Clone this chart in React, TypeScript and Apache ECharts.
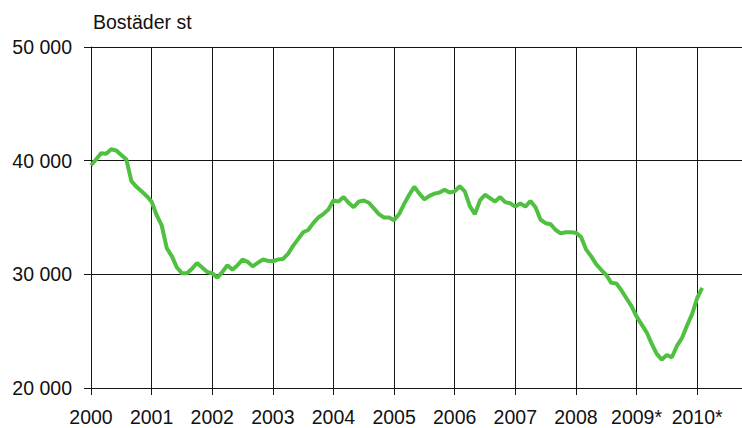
import React, { useEffect, useRef } from "react";
import * as echarts from "echarts";

// Monthly values, Jan 2000 .. Feb 2010 (dwellings, trend)
const startYear = 2000;
const monthlyValues: number[] = [
  39600, 40100, 40650, 40600, 41000, 40900, 40500, 40100, 38200, 37700, 37300, 36900,
  36400, 35200, 34300, 32300, 31600, 30600, 30100, 30100, 30500, 31000, 30600, 30200,
  30100, 29700, 30200, 30800, 30400, 30800, 31300, 31100, 30700, 31000, 31300, 31200,
  31150, 31300, 31350, 31800, 32500, 33100, 33700, 33900, 34500, 35000, 35300, 35700,
  36500, 36400, 36800, 36300, 35900, 36400, 36500, 36300, 35800, 35300, 35000, 35000,
  34750, 35300, 36200, 37000, 37700, 37100, 36600, 36900, 37100, 37200, 37450, 37200,
  37300, 37750, 37300, 36000, 35300, 36500, 37000, 36700, 36400, 36800, 36350, 36250,
  35950, 36250, 35950, 36450, 35900, 34800, 34500, 34400, 33900, 33600, 33700, 33700,
  33650, 33300, 32200, 31600, 30900, 30400, 29950, 29250, 29200, 28600, 27900, 27200,
  26300, 25600, 24900, 23900, 23000, 22500, 22900, 22700, 23700, 24400, 25500, 26500,
  27900, 28800,
];
const yearLabels: Record<number, string> = {
  2000: "2000", 2001: "2001", 2002: "2002", 2003: "2003", 2004: "2004",
  2005: "2005", 2006: "2006", 2007: "2007", 2008: "2008", 2009: "2009*", 2010: "2010*",
};
const yTickLabels: Record<number, string> = {
  20000: "20 000", 30000: "30 000", 40000: "40 000", 50000: "50 000",
};
const yAxisName = "Bostäder st";

export default function App() {
  const ref = useRef<HTMLDivElement>(null);
  useEffect(() => {
    if (!ref.current) return;
    const chart = echarts.init(ref.current, null, { renderer: "svg" });
    const data = monthlyValues.map((v, i) => [startYear + i / 12, v]);
    const lineColor = "#151515";
    const font = "'Liberation Sans', Arial, sans-serif";
    chart.setOption({
      animation: false,
      backgroundColor: "#ffffff",
      grid: { left: 91, top: 47, right: 0, bottom: 40, containLabel: false },
      title: {
        text: yAxisName,
        left: 88,
        top: 7,
        textStyle: { fontFamily: font, fontSize: 19.5, fontWeight: "normal", color: "#111" },
      },
      xAxis: {
        type: "value",
        min: 2000,
        max: 2010.74,
        interval: 1,
        axisLine: { show: true, lineStyle: { color: lineColor, width: 1 } },
        axisTick: { show: true, length: 7, lineStyle: { color: lineColor } },
        splitLine: { show: true, lineStyle: { color: lineColor, width: 1 } },
        axisLabel: {
          margin: 19,
          fontFamily: font,
          fontSize: 19.5,
          color: "#111",
          showMaxLabel: false,
          formatter: (v: number) => yearLabels[Math.round(v)] ?? "",
        },
      },
      yAxis: {
        type: "value",
        min: 20000,
        max: 50000,
        interval: 10000,
        axisLine: { show: true, lineStyle: { color: lineColor, width: 1 } },
        axisTick: { show: true, length: 7, lineStyle: { color: lineColor } },
        splitLine: { show: true, lineStyle: { color: lineColor, width: 1 } },
        axisLabel: {
          margin: 19,
          fontFamily: font,
          fontSize: 19.5,
          color: "#111",
          formatter: (v: number) => yTickLabels[v] ?? "",
        },
      },
      series: [
        {
          type: "line",
          data,
          showSymbol: false,
          symbol: "none",
          lineStyle: { color: "#50c040", width: 4 },
          z: 5,
        },
      ],
    });
    return () => chart.dispose();
  }, []);
  return (
    <div
      ref={ref}
      style={{ position: "fixed", left: 0, top: 0, width: 742, height: 428, background: "#fff" }}
    />
  );
}
